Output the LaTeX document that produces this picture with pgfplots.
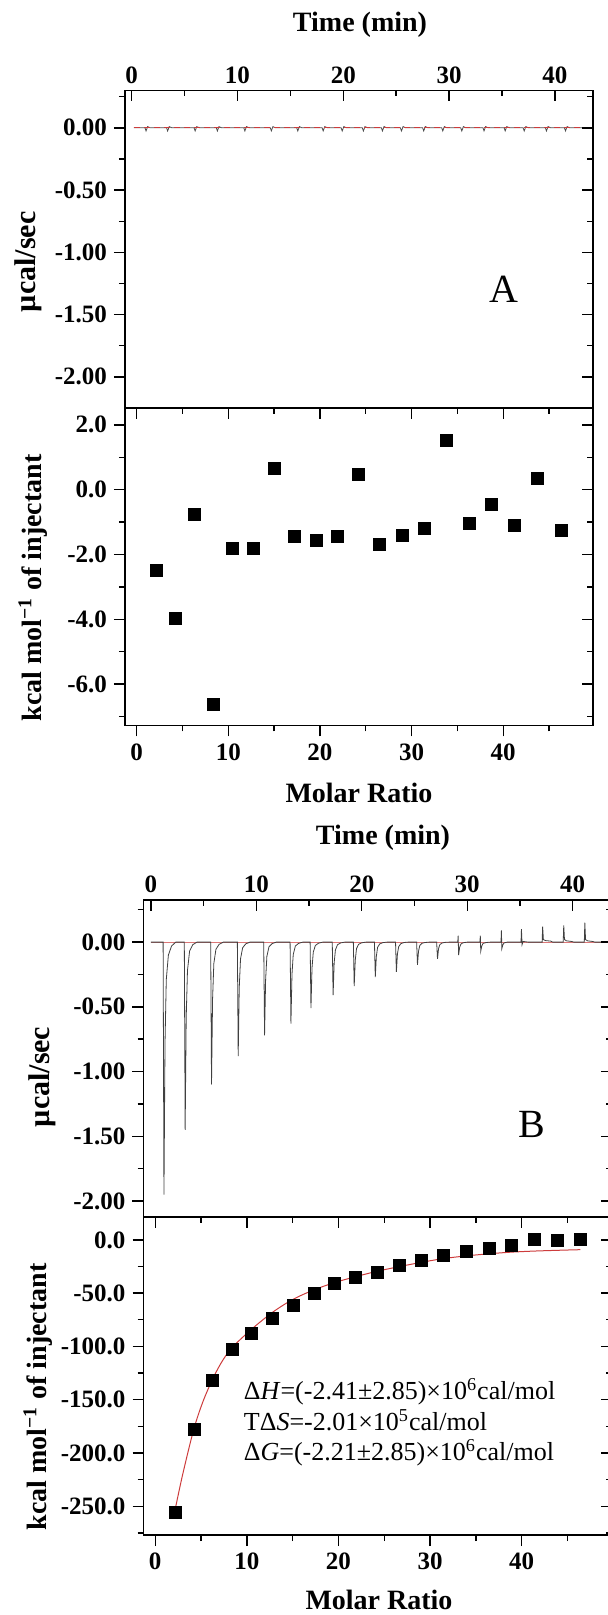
\documentclass[border=0pt]{standalone}
\usepackage{pgfplots}
\pgfplotsset{compat=1.18}
\usepackage{fontspec}
\setmainfont{Liberation Serif}
\definecolor{fitred}{RGB}{205,60,60}
\pgfplotsset{
  itc/.style={scale only axis, width=234pt, height=158.75pt, anchor=south west,
    axis line style={line width=0.8pt}, tick style={line width=0.7pt, black},
    major tick length=5.5pt, minor tick length=3pt,
    tick label style={font=\fontsize{12.5}{14}\selectfont\bfseries},
    /pgf/number format/assume math mode=true},
  ov/.style={yticklabels={}, ytick pos=right, ytick align=inside},
}
\newcommand{\lab}{\fontsize{14}{16}\selectfont\bfseries}
\begin{document}
\begin{tikzpicture}
% ---------------- Panel A, raw heat ----------------
\begin{axis}[itc, at={(62.5pt,603.5pt)}, xmin=-0.63, xmax=43.6, ymin=-2.25, ymax=0.30,
  xtick={0,10,20,30,40}, minor xtick={5,15,25,35}, xtick pos=top, xticklabel pos=top, xtick align=inside,
  ytick={-2,-1.5,-1,-0.5,0}, minor ytick={-1.75,-1.25,-0.75,-0.25,0.25}, ytick pos=left, ytick align=outside,
  yticklabel style={/pgf/number format/.cd, fixed, fixed zerofill, precision=2}]
\addplot[black!70, line width=0.4pt] coordinates {
(0.2,0)(1.26,0)(1.36,-0.025)(1.51,0.01)(1.76,0)(3.3,0)(3.4,-0.025)(3.55,0.01)(3.8,0)
(5.9,0)(6.0,-0.025)(6.15,0.01)(6.4,0)(8.0,0)(8.1,-0.025)(8.25,0.01)(8.5,0)
(10.6,0)(10.7,-0.025)(10.85,0.01)(11.1,0)(13.1,0)(13.2,-0.025)(13.35,0.01)(13.6,0)
(15.6,0)(15.7,-0.025)(15.85,0.01)(16.1,0)(18.0,0)(18.1,-0.025)(18.25,0.01)(18.5,0)
(19.8,0)(19.9,-0.025)(20.05,0.01)(20.3,0)(21.8,0)(21.9,-0.025)(22.05,0.01)(22.3,0)
(23.6,0)(23.7,-0.025)(23.85,0.01)(24.1,0)(25.4,0)(25.5,-0.025)(25.65,0.01)(25.9,0)
(27.5,0)(27.6,-0.025)(27.75,0.01)(28.0,0)(29.3,0)(29.4,-0.025)(29.55,0.01)(29.8,0)
(31.1,0)(31.2,-0.025)(31.35,0.01)(31.6,0)(33.2,0)(33.3,-0.025)(33.45,0.01)(33.7,0)
(35.2,0)(35.3,-0.025)(35.45,0.01)(35.7,0)(37.0,0)(37.1,-0.025)(37.25,0.01)(37.5,0)
(39.1,0)(39.2,-0.025)(39.35,0.01)(39.6,0)(40.9,0)(41.0,-0.025)(41.15,0.01)(41.4,0)(42.7,0)};
\addplot[fitred, line width=0.4pt, dash pattern=on 3pt off 2pt] coordinates {(0.2,0)(42.7,0)};
\end{axis}
\begin{axis}[itc, ov, at={(62.5pt,603.5pt)}, xmin=-0.63, xmax=43.6, ymin=-2.25, ymax=0.30,
  xtick=\empty, ytick={-2,-1.5,-1,-0.5,0}, minor ytick={-1.75,-1.25,-0.75,-0.25,0.25}]
\end{axis}
% ---------------- Panel A, integrated ----------------
\begin{axis}[itc, at={(62.5pt,444.75pt)}, xmin=-1.28, xmax=49.8, ymin=-7.28, ymax=2.52,
  xtick={0,10,20,30,40}, minor xtick={5,15,25,35,45}, xtick pos=bottom, xtick align=outside,
  ytick={-6,-4,-2,0,2}, minor ytick={-7,-5,-3,-1,1}, ytick pos=left, ytick align=outside,
  yticklabel style={/pgf/number format/.cd, fixed, fixed zerofill, precision=1}]
\addplot[only marks, mark=square*, mark size=3pt, black] coordinates {
(2.18,-2.50)(4.18,-3.96)(6.29,-0.75)(8.36,-6.62)(10.47,-1.80)(12.72,-1.82)(14.98,0.65)
(17.2,-1.44)(19.56,-1.58)(21.9,-1.44)(24.2,0.48)(26.5,-1.70)(29.0,-1.41)(31.4,-1.20)
(33.85,1.52)(36.3,-1.03)(38.7,-0.46)(41.25,-1.10)(43.75,0.36)(46.3,-1.26)};
\end{axis}
\begin{axis}[itc, ov, at={(62.5pt,444.75pt)}, xmin=-1.28, xmax=49.8, ymin=-7.28, ymax=2.52,
  xtick={0,10,20,30,40}, minor xtick={5,15,25,35,45}, xtick pos=top, xtick align=inside, xticklabels={},
  ytick={-6,-4,-2,0,2}, minor ytick={-7,-5,-3,-1,1}]
\end{axis}
% ---------------- Panel B, raw heat ----------------
\begin{axis}[itc, at={(71.75pt,198.85pt)}, xmin=-0.7, xmax=43.68, ymin=-2.126, ymax=0.327,
  xtick={0,10,20,30,40}, minor xtick={5,15,25,35}, xtick pos=top, xticklabel pos=top, xtick align=inside,
  ytick={-2,-1.5,-1,-0.5,0}, minor ytick={-1.75,-1.25,-0.75,-0.25,0.25}, ytick pos=left, ytick align=outside,
  yticklabel style={/pgf/number format/.cd, fixed, fixed zerofill, precision=2}]
\addplot[fitred!70, line width=0.4pt] coordinates {(0,0)(43.7,0)};
\addplot[black!75, line width=0.4pt] coordinates {
(0,0)
(1.16,0)(1.24,-1.95)(1.34,-0.78)(1.46,-0.29)(1.66,-0.10)(1.96,-0.03)(2.36,0)
(3.17,0)(3.25,-1.45)(3.35,-0.58)(3.47,-0.22)(3.67,-0.07)(3.97,-0.02)(4.37,0)
(5.67,0)(5.75,-1.10)(5.85,-0.44)(5.97,-0.165)(6.17,-0.055)(6.47,-0.017)(6.87,0)
(8.2,0)(8.28,-0.88)(8.38,-0.35)(8.5,-0.13)(8.7,-0.044)(9.0,-0.013)(9.4,0)
(10.7,0)(10.78,-0.72)(10.88,-0.29)(11.0,-0.11)(11.2,-0.036)(11.5,-0.011)(11.9,0)
(13.2,0)(13.28,-0.63)(13.38,-0.25)(13.5,-0.095)(13.7,-0.03)(14.0,-0.01)(14.4,0)
(15.1,0)(15.18,-0.51)(15.28,-0.20)(15.4,-0.077)(15.6,-0.026)(15.9,-0.008)(16.3,0)
(17.2,0)(17.28,-0.41)(17.38,-0.16)(17.5,-0.06)(17.7,-0.02)(18.0,-0.006)(18.4,0)
(19.2,0)(19.28,-0.34)(19.38,-0.14)(19.5,-0.05)(19.7,-0.017)(20.0,-0.005)(20.4,0)
(21.2,0)(21.28,-0.27)(21.38,-0.11)(21.5,-0.04)(21.7,-0.014)(22.0,-0.004)(22.4,0)
(23.2,0)(23.28,-0.23)(23.38,-0.09)(23.5,-0.035)(23.7,-0.012)(24.0,-0.003)(24.4,0)
(25.2,0)(25.28,-0.175)(25.38,-0.07)(25.5,-0.026)(25.7,-0.009)(26.0,-0.003)(26.4,0)
(27.1,0)(27.18,-0.13)(27.28,-0.05)(27.4,-0.02)(27.6,-0.007)(27.9,-0.002)(28.3,0)
(29.1,0)(29.14,0.05)(29.18,-0.10)(29.28,-0.04)(29.4,-0.015)(29.6,-0.005)(30.0,0)
(31.2,0)(31.24,0.05)(31.28,-0.07)(31.38,-0.03)(31.5,-0.01)(31.8,-0.003)(32.2,0)
(33.2,0)(33.24,0.09)(33.28,-0.05)(33.38,-0.02)(33.5,-0.006)(33.8,0)
(35.1,0)(35.14,0.10)(35.2,-0.02)(35.3,0.005)(35.8,0)
(37.1,0)(37.15,0.12)(37.22,0.02)(37.4,0.012)(37.9,0.008)(38.1,0)
(39.1,0)(39.15,0.13)(39.22,0.02)(39.4,0.01)(39.9,0.005)(40.1,0)
(41.1,0)(41.15,0.15)(41.22,0.02)(41.4,0.01)(41.9,0.005)(42.1,0)(43.7,0)};
\end{axis}
\begin{axis}[itc, ov, at={(71.75pt,198.85pt)}, xmin=-0.7, xmax=43.68, ymin=-2.126, ymax=0.327,
  xtick=\empty, ytick={-2,-1.5,-1,-0.5,0}, minor ytick={-1.75,-1.25,-0.75,-0.25,0.25}]
\end{axis}
% ---------------- Panel B, integrated ----------------
\begin{axis}[itc, at={(71.75pt,40pt)}, xmin=-1.28, xmax=49.8, ymin=-277, ymax=21,
  xtick={0,10,20,30,40}, minor xtick={5,15,25,35,45}, xtick pos=bottom, xtick align=outside,
  ytick={-250,-200,-150,-100,-50,0}, minor ytick={-275,-225,-175,-125,-75,-25}, ytick pos=left, ytick align=outside,
  yticklabel style={/pgf/number format/.cd, fixed, fixed zerofill, precision=1}]
\addplot[only marks, mark=square*, mark size=3pt, black] coordinates {
(2.2,-256)(4.24,-177.5)(6.27,-132)(8.39,-102.5)(10.5,-87.5)(12.8,-73.7)(15.1,-61.9)
(17.35,-50.6)(19.6,-41.2)(21.9,-35)(24.25,-30.3)(26.7,-23.7)(29.1,-19.4)(31.5,-14.4)
(34.0,-10.9)(36.5,-8.4)(38.9,-5.3)(41.4,0.6)(43.9,-0.9)(46.4,0.6)};
\addplot[fitred, line width=0.5pt, smooth] coordinates {
(2.2,-252)(3.0,-220)(4.2,-178)(5.2,-152)(6.3,-130)(7.3,-114)(8.4,-101)(10.5,-84)
(12.8,-68)(15.0,-56)(17.3,-47)(19.6,-40)(21.9,-34.5)(24.2,-29.5)(26.7,-25)(29.1,-21)
(31.5,-17.5)(34.0,-15)(36.5,-13)(38.9,-11.5)(41.4,-10.5)(43.9,-9.8)(46.4,-9.2)};
\end{axis}
\begin{axis}[itc, ov, at={(71.75pt,40pt)}, xmin=-1.28, xmax=49.8, ymin=-277, ymax=21,
  xtick={0,10,20,30,40}, minor xtick={5,15,25,35,45}, xtick pos=top, xtick align=inside, xticklabels={},
  ytick={-250,-200,-150,-100,-50,0}, minor ytick={-275,-225,-175,-125,-75,-25}]
\end{axis}
% ---------------- Labels ----------------
\node[font=\lab] at (180pt,795pt) {Time (min)};
\node[font=\fontsize{15}{17}\selectfont\bfseries, rotate=90] at (14pt,676.5pt) {µcal/sec};
\node[font=\fontsize{20}{22}\selectfont] at (252pt,663pt) {A};
\node[font=\lab, rotate=90] at (16.5pt,513.5pt) {kcal mol\textsuperscript{−1} of injectant};
\node[font=\lab] at (179.5pt,411pt) {Molar Ratio};
\node[font=\lab] at (191.5pt,388.5pt) {Time (min)};
\node[font=\fontsize{15}{17}\selectfont\bfseries, rotate=90] at (21pt,269pt) {µcal/sec};
\node[font=\fontsize{20}{22}\selectfont] at (266pt,245.5pt) {B};
\node[font=\lab, rotate=90] at (19pt,109pt) {kcal mol\textsuperscript{−1} of injectant};
\node[font=\lab] at (189.5pt,7.5pt) {Molar Ratio};
\node[font=\fontsize{13}{15}\selectfont, anchor=west, inner sep=0pt] at (121.75pt,111.65pt) {Δ\textit{H}=(-2.41±2.85)×10\textsuperscript{6}cal/mol};
\node[font=\fontsize{13}{15}\selectfont, anchor=west, inner sep=0pt] at (121.75pt,97.5pt) {TΔ\textit{S}=-2.01×10\textsuperscript{5}cal/mol};
\node[font=\fontsize{13}{15}\selectfont, anchor=west, inner sep=0pt] at (121.75pt,81.15pt) {Δ\textit{G}=(-2.21±2.85)×10\textsuperscript{6}cal/mol};
\pgfresetboundingbox
\useasboundingbox (0,0) rectangle (304pt,807.5pt);
\end{tikzpicture}
\end{document}
